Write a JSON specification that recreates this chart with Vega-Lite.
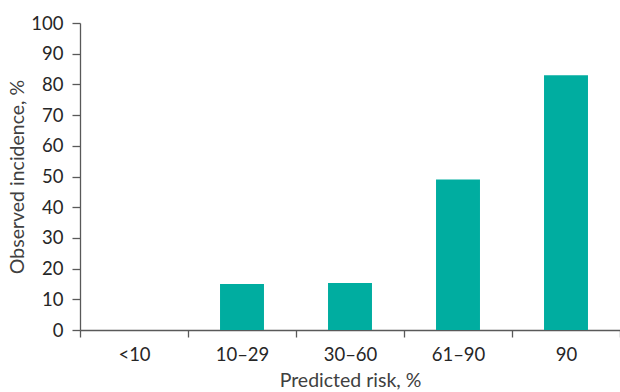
{
  "$schema": "https://vega.github.io/schema/vega-lite/v6.json",
  "autosize": "none",
  "padding": {"left": 80, "top": 23, "right": 0, "bottom": 62},
  "width": 540,
  "height": 307,
  "background": "white",
  "config": {
    "view": {"stroke": null},
    "font": "Lato",
    "axis": {"grid": false, "domainColor": "#595959", "tickColor": "#595959", "labelColor": "#262626", "titleColor": "#404040", "labelFont": "Lato", "titleFont": "Lato", "titleFontWeight": "normal", "labelFontSize": 18.5, "titleFontSize": 19.5, "domainWidth": 1.3, "tickWidth": 1.3}
  },
  "data": {
    "values": [
      {"risk": "<10", "incidence": 0},
      {"risk": "10–29", "incidence": 15},
      {"risk": "30–60", "incidence": 15.3},
      {"risk": "61–90", "incidence": 49},
      {"risk": "90", "incidence": 83}
    ]
  },
  "mark": {"type": "bar", "color": "#00ADA0", "width": {"band": 0.407}},
  "encoding": {
    "x": {
      "field": "risk", "type": "nominal", "sort": null,
      "scale": {"paddingInner": 0, "paddingOuter": 0},
      "axis": {"title": "Predicted risk, %", "labelAngle": 0, "tickBand": "extent", "tickSize": 7, "labelPadding": 8, "titlePadding": 8}
    },
    "y": {
      "field": "incidence", "type": "quantitative",
      "scale": {"domain": [0, 100], "nice": false},
      "axis": {"title": "Observed incidence, %", "values": [0,10,20,30,40,50,60,70,80,90,100], "tickSize": 8, "labelPadding": 9, "titlePadding": 3}
    }
  }
}
